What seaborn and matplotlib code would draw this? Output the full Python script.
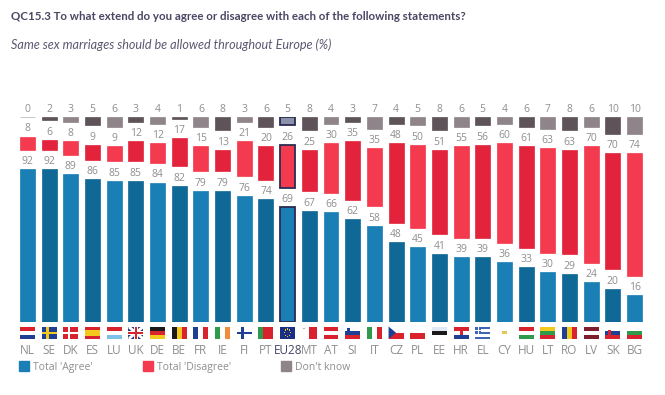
import matplotlib
matplotlib.use("Agg")
import matplotlib.pyplot as plt
import numpy as np
import seaborn as sns
from matplotlib.patches import Patch, Polygon, Rectangle

countries = ["NL", "SE", "DK", "ES", "LU", "UK", "DE", "BE", "FR", "IE", "FI", "PT", "EU28", "MT", "AT",
             "SI", "IT", "CZ", "PL", "EE", "HR", "EL", "CY", "HU", "LT", "RO", "LV", "SK", "BG"]
agree = [92, 92, 89, 86, 85, 85, 84, 82, 79, 79, 76, 74, 69, 67, 66,
         62, 58, 48, 45, 41, 39, 39, 36, 33, 30, 29, 24, 20, 16]
disagree = [8, 6, 8, 9, 9, 12, 12, 17, 15, 13, 21, 20, 26, 25, 30,
            35, 35, 48, 50, 51, 55, 56, 60, 61, 63, 63, 70, 70, 74]
dont_know = [0, 2, 3, 5, 6, 3, 4, 1, 6, 8, 3, 6, 5, 8, 4,
             3, 7, 4, 5, 8, 6, 5, 4, 6, 7, 8, 6, 10, 10]

title = "QC15.3 To what extend do you agree or disagree with each of the following statements?"
subtitle = "Same sex marriages should be allowed throughout Europe (%)"
legend_labels = ["Total 'Agree'", "Total 'Disagree'", "Don't know"]

# (light, dark) bars alternate along the axis
BLUES = ("#1a7fb4", "#0f6895")
REDS = ("#f43a4e", "#e2233b")
GREYS = ("#8f8489", "#5d5358")
EU_EDGE = "#2b2b52"
EU_GREY = "#8c90a8"
TEXT_GREY = "#8e8e8e"
GAP = 11.75  # white space between the stacked blocks, in percentage points

R, W, B, Y, G, K = "#d8232f", "#ffffff", "#1f3f94", "#f4c91e", "#2f9a4a", "#1a1a1a"
# horizontal bands, top to bottom
H_FLAGS = {
    "NL": [R, W, B], "ES": [R, Y, Y, R], "LU": [R, W, "#7fc0ea"], "DE": [K, R, Y],
    "AT": [R, W, R], "SI": [W, B, R], "PL": [W, R], "EE": ["#dfeaf5", K, W],
    "HR": [R, W, B], "HU": [R, W, G], "LT": [Y, G, R], "LV": ["#7d1f2e", W, "#7d1f2e"],
    "SK": [W, B, R], "BG": [W, G, R], "CZ": [W, R], "EL": ["#3f66b5", W, "#3f66b5", W, "#3f66b5"],
    "CY": [W],
}
# vertical bands, left to right
V_FLAGS = {
    "BE": [K, Y, R], "FR": [B, W, R], "IE": [G, W, "#f08c3c"], "PT": [G, R, R],
    "MT": [W, R], "IT": [G, W, R], "RO": [B, Y, R],
}
# background and cross colours of the Nordic flags
CROSS_FLAGS = {"SE": (B, Y), "DK": (R, W), "FI": (W, B)}

sns.set_style("white")
plt.rcParams["font.family"] = ["Open Sans", "DejaVu Sans"]

fig = plt.figure(figsize=(6.65, 3.95), dpi=100)
ax = fig.add_axes([16.66 / 665, 1 - 322 / 395, 628.7 / 665, 205 / 395])

agree = np.array(agree)
disagree = np.array(disagree)
dont_know = np.array(dont_know)
eu = countries.index("EU28")

layers = [
    (agree, np.zeros(len(countries)), BLUES),
    (disagree, agree + GAP, REDS),
    (dont_know, agree + disagree + 2 * GAP, GREYS),
]
for values, bottom, shades in layers:
    sns.barplot(x=countries, y=values, bottom=bottom, width=0.69, ax=ax, color=shades[0])
    bars = ax.containers[-1]
    for i, bar in enumerate(bars):
        shade = shades[i % 2]
        bar.set_facecolor(shade)
        bar.set_edgecolor(shade)
        bar.set_linewidth(0.5)
    bars[eu].set_edgecolor(EU_EDGE)
    bars[eu].set_linewidth(1.3)
    ax.bar_label(bars, labels=[str(v) for v in values], padding=1.5, fontsize=7.5, color=TEXT_GREY)
ax.containers[-1][eu].set_facecolor(EU_GREY)
ax.containers[-1][0].set_edgecolor("#b0b0b0")

ax.set_xlim(-0.5, 28.5)
ax.set_ylim(0, 100 + 2 * GAP)
ax.set_yticks([])
ax.tick_params(axis="x", length=0, pad=15.5, labelsize=8.5, labelcolor=TEXT_GREY)
ax.get_xticklabels()[eu].set_color("#45456b")
sns.despine(ax=ax, left=True, bottom=True)

# flags sit between the bars and the country codes
trans = ax.get_xaxis_transform()
FLAG_W = 0.69
FLAG_TOP = -4.5 / 205
FLAG_H = 12.5 / 205


def flag_rect(i, x0, y0, w, h, color):
    # x0, y0, w, h are fractions of the flag, y0 counted from the top
    ax.add_patch(Rectangle((i - FLAG_W / 2 + x0 * FLAG_W, FLAG_TOP - (y0 + h) * FLAG_H), w * FLAG_W, h * FLAG_H,
                           facecolor=color, edgecolor="none", transform=trans, clip_on=False))


def flag_poly(i, points, color):
    pts = [(i - FLAG_W / 2 + x * FLAG_W, FLAG_TOP - y * FLAG_H) for x, y in points]
    ax.add_patch(Polygon(pts, facecolor=color, edgecolor="none", transform=trans, clip_on=False))


for i, code in enumerate(countries):
    if code in H_FLAGS:
        bands = H_FLAGS[code]
        for j, color in enumerate(bands):
            flag_rect(i, 0, j / len(bands), 1, 1 / len(bands), color)
    elif code in V_FLAGS:
        bands = V_FLAGS[code]
        for j, color in enumerate(bands):
            flag_rect(i, j / len(bands), 0, 1 / len(bands), 1, color)
    elif code in CROSS_FLAGS:
        back, cross = CROSS_FLAGS[code]
        flag_rect(i, 0, 0, 1, 1, back)
        flag_rect(i, 0.3, 0, 0.17, 1, cross)
        flag_rect(i, 0, 0.4, 1, 0.2, cross)
    elif code == "UK":
        flag_rect(i, 0, 0, 1, 1, "#2a3a80")
        flag_poly(i, [(0, 0), (0.15, 0), (1, 0.85), (1, 1), (0.85, 1), (0, 0.15)], W)
        flag_poly(i, [(1, 0), (0.85, 0), (0, 0.85), (0, 1), (0.15, 1), (1, 0.15)], W)
        flag_rect(i, 0.38, 0, 0.24, 1, W)
        flag_rect(i, 0, 0.33, 1, 0.34, W)
        flag_rect(i, 0.44, 0, 0.12, 1, R)
        flag_rect(i, 0, 0.4, 1, 0.2, R)
    elif code == "EU28":
        flag_rect(i, 0, 0, 1, 1, "#1c2f86")
        for a in np.linspace(0, 2 * np.pi, 9)[:-1]:
            flag_rect(i, 0.47 + 0.2 * np.cos(a), 0.45 + 0.3 * np.sin(a), 0.07, 0.1, Y)
    if code == "CZ":
        flag_poly(i, [(0, 0), (0.5, 0.5), (0, 1)], B)
    elif code == "EL":
        flag_rect(i, 0, 0, 0.4, 0.6, "#3f66b5")
        flag_rect(i, 0.16, 0, 0.08, 0.6, W)
        flag_rect(i, 0, 0.25, 0.4, 0.1, W)
    elif code == "CY":
        flag_rect(i, 0.35, 0.35, 0.3, 0.25, "#e6c65a")
    elif code == "MT":
        flag_rect(i, 0.08, 0.08, 0.1, 0.15, "#b0b0b0")
    elif code == "SI":
        flag_rect(i, 0.15, 0.12, 0.2, 0.4, B)
    elif code == "HR":
        flag_rect(i, 0.4, 0.3, 0.2, 0.4, R)
    elif code == "SK":
        flag_rect(i, 0.18, 0.25, 0.22, 0.5, R)

fig.text(11 / 665, 1 - 16 / 395, title, fontsize=8.3, fontweight="bold", color="#4b4663",
         family=["Lato", "DejaVu Sans"], va="center")
fig.text(11 / 665, 1 - 45 / 395, subtitle, fontsize=9.1, fontstyle="italic", color="#5c5872",
         family=["Lato", "DejaVu Sans"], va="center")

handles = [Patch(facecolor=BLUES[0], edgecolor=BLUES[0]),
           Patch(facecolor=REDS[0], edgecolor=REDS[0]),
           Patch(facecolor=GREYS[0], edgecolor=GREYS[0])]
fig.legend(handles, legend_labels, ncol=3, frameon=False, fontsize=7.5, labelcolor=TEXT_GREY,
           loc="center left", bbox_to_anchor=(19 / 665, 1 - 367 / 395), borderaxespad=0, borderpad=0,
           handlelength=0.96, handleheight=0.96, handletextpad=0.4, columnspacing=4.8)

fig.savefig("out.png", dpi=100, facecolor="white")
